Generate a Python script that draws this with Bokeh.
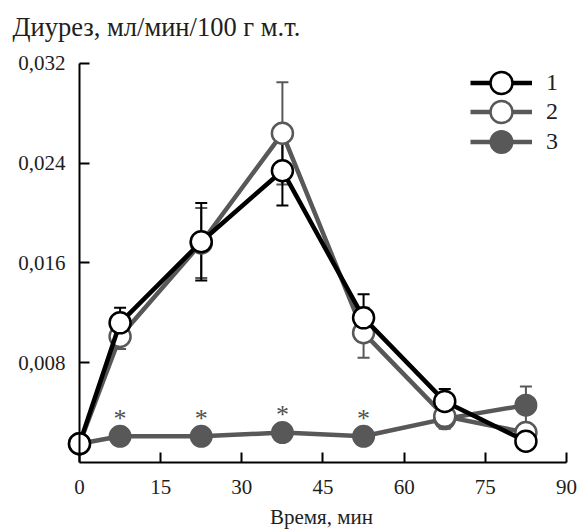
from bokeh.plotting import figure
from bokeh.models import (ColumnDataSource, LinearAxis, FixedTicker, CustomJSTickFormatter,
                          Whisker, TeeHead, Legend, LegendItem, Range1d)
from bokeh.core.properties import value
from bokeh.embed import file_html
from bokeh.resources import INLINE

# ---- data ----
time_min = [0, 7.5, 22.5, 37.5, 52.5, 67.5, 82.5]
series1 = [0.0015, 0.0112, 0.0177, 0.0234, 0.0116, 0.0049, 0.0017]
series1_err = [0.0, 0.0012, 0.0031, 0.0028, 0.0019, 0.0010, 0.0005]
series2 = [0.0015, 0.0101, 0.0176, 0.0264, 0.0104, 0.0037, 0.0024]
series2_err = [0.0, 0.0010, 0.0028, 0.0041, 0.0020, 0.0010, 0.0006]
series3 = [0.0015, 0.0021, 0.0021, 0.0024, 0.0021, 0.0035, 0.0046]
series3_err = [0.0, 0.0002, 0.0002, 0.0002, 0.0002, 0.0003, 0.0015]
significant = [False, True, True, True, True, False, False]
x_ticks = [0, 15, 30, 45, 60, 75, 90]
y_ticks = [0.008, 0.016, 0.024, 0.032]
legend_labels = ["1", "2", "3"]
title_text = "Диурез, мл/мин/100 г м.т."
x_label = "Время, мин"

FONT = "Liberation Serif"
BLACK = "#000000"
GRAY = "#585858"
TXT = "#1e1e1e"

FRAME_LEFT = 66
p = figure(width=578, height=531, output_backend="svg", toolbar_location=None,
           x_range=Range1d(-2.4025, 91.85), y_range=Range1d(0, 0.03344),
           x_axis_type=None, y_axis_type=None,
           min_border_left=FRAME_LEFT, min_border_right=2, min_border_top=45,
           min_border_bottom=68,
           background_fill_color="white", border_fill_color="white",
           title=title_text)
p.outline_line_color = None
p.title.align = "left"
p.title.offset = -54
p.title.standoff = 8
p.title.text_font = FONT
p.title.text_font_size = "26.5px"
p.title.text_font_style = "normal"
p.title.text_color = TXT

yfmt = CustomJSTickFormatter(code="return tick.toFixed(3).replace('.', ',')")
# y tick labels (axis without line)
ylab = LinearAxis(ticker=FixedTicker(ticks=y_ticks), formatter=yfmt,
                  axis_line_color=None, major_tick_line_color=None, minor_tick_line_color=None,
                  major_tick_in=0, major_tick_out=0, major_label_standoff=1,
                  major_label_text_font=FONT, major_label_text_font_size="21px",
                  major_label_text_color=TXT)
p.add_layout(ylab, "left")
# y axis line and ticks at t = 0
yline = LinearAxis(fixed_location=0, bounds=(0, 0.032), ticker=FixedTicker(ticks=y_ticks),
                   formatter=CustomJSTickFormatter(code="return ''"),
                   major_tick_in=10, major_tick_out=0, minor_tick_in=0, minor_tick_out=0,
                   axis_line_width=2, major_tick_line_width=2, axis_line_color=BLACK,
                   major_label_standoff=0, major_label_text_font_size="1px")
p.add_layout(yline, "left")

xax = LinearAxis(bounds=(0, 90), ticker=FixedTicker(ticks=x_ticks),
                 major_tick_in=10, major_tick_out=0, minor_tick_in=0, minor_tick_out=0,
                 axis_line_width=2, major_tick_line_width=2, axis_line_color=BLACK,
                 major_label_standoff=17, major_label_text_font=FONT,
                 major_label_text_font_size="21px", major_label_text_color=TXT,
                 axis_label=x_label, axis_label_standoff=8, axis_label_text_font=FONT,
                 axis_label_text_font_size="21px", axis_label_text_font_style="normal",
                 axis_label_text_color=TXT)
p.add_layout(xax, "below")


def make_src(vals, errs):
    return ColumnDataSource(dict(t=time_min, v=vals,
                                 lo=[a - b for a, b in zip(vals, errs)],
                                 hi=[a + b for a, b in zip(vals, errs)]))


src1 = make_src(series1, series1_err)
src2 = make_src(series2, series2_err)
src3 = make_src(series3, series3_err)


def whisk(src, color):
    w = Whisker(base="t", upper="hi", lower="lo", source=src, line_color=color, line_width=2,
                upper_head=TeeHead(size=12, line_color=color, line_width=2),
                lower_head=TeeHead(size=12, line_color=color, line_width=2), level="underlay")
    p.add_layout(w)


whisk(src3, GRAY)
whisk(src2, GRAY)
whisk(src1, BLACK)

l3 = p.line("t", "v", source=src3, line_color=GRAY, line_width=4.5)
c3 = p.scatter("t", "v", source=src3, marker="circle", size=21, fill_color=GRAY,
               line_color=GRAY, line_width=2)
l2 = p.line("t", "v", source=src2, line_color=GRAY, line_width=4.5)
c2 = p.scatter("t", "v", source=src2, marker="circle", size=21, fill_color="white",
               line_color=GRAY, line_width=2.5)
l1 = p.line("t", "v", source=src1, line_color=BLACK, line_width=4.5)
c1 = p.scatter("t", "v", source=src1, marker="circle", size=21, fill_color="white",
               line_color=BLACK, line_width=2.5)

# significance asterisks above series 3
ast_t = [t for t, s in zip(time_min, significant) if s]
ast_v = [v for v, s in zip(series3, significant) if s]
p.text(x=ast_t, y=ast_v, text=["*"] * len(ast_t), text_font=value(FONT),
       text_font_size="26px", text_align="center", text_baseline="alphabetic",
       y_offset=-18, text_color="#505050")

# legend: one single-row legend per series (rows ~29.5 px apart)
GLYPH_H = 55
row_centers = [83, 112.5, 142]
for lab, rs, yc in zip(legend_labels, [[l1, c1], [l2, c2], [l3, c3]], row_centers):
    lg = Legend(items=[LegendItem(label=lab, renderers=rs)],
                location=(470 - FRAME_LEFT, 463 - (yc + GLYPH_H / 2)),
                glyph_width=62, glyph_height=GLYPH_H, padding=0, margin=0,
                label_standoff=14, label_text_font=FONT, label_text_font_size="24px",
                label_text_color=TXT, border_line_color=None, background_fill_alpha=0)
    p.add_layout(lg)

open("out.html", "w").write(file_html(p, INLINE))
